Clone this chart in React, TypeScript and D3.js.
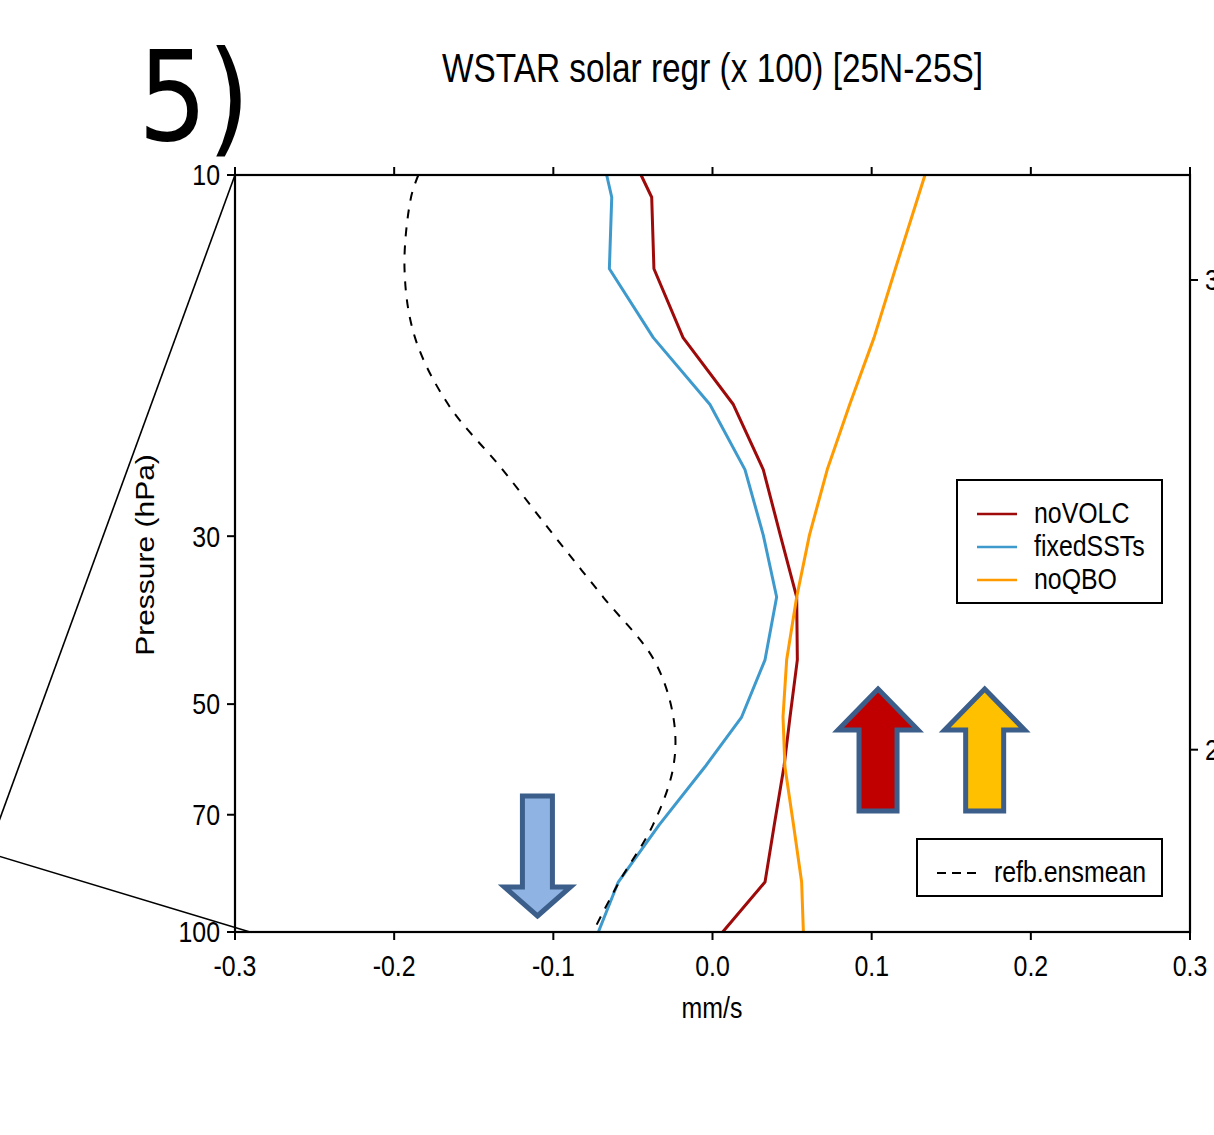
import React from "react";
import * as d3 from "d3";

// ---- data ----
const levels = [10, 10.7, 13.3, 16.4, 20.1, 24.5, 29.9, 36.1, 43.7, 52, 60.5, 72.2, 85.9, 100];
const noVOLC = [-0.0449, -0.0382, -0.0368, -0.0185, 0.0131, 0.0319, 0.0426, 0.0529, 0.0533, 0.0487, 0.0449, 0.0388, 0.033, 0.0064];
const fixedSSTs = [-0.0665, -0.0633, -0.0648, -0.0372, -0.0016, 0.0204, 0.0319, 0.0403, 0.033, 0.0183, -0.0047, -0.0335, -0.0592, -0.0717];
const noQBO = [0.1335, 0.1291, 0.1149, 0.1015, 0.0862, 0.0721, 0.0609, 0.0529, 0.0466, 0.0443, 0.0455, 0.0509, 0.056, 0.0571];
const refbEnsmean = [-0.1848, -0.1894, -0.1935, -0.1869, -0.166, -0.1319, -0.0998, -0.0687, -0.0368, -0.0246, -0.0246, -0.0374, -0.0587, -0.0751];

const xTicks = [-0.3, -0.2, -0.1, 0.0, 0.1, 0.2, 0.3];
const yTicks = [10, 30, 50, 70, 100];
const zTicks = [20, 30]; // km, z = 7 ln(1000/p)

const seriesNames = ["noVOLC", "fixedSSTs", "noQBO"];
const seriesColors = ["#9E0A0A", "#3E9ACD", "#FF9A00"];

// annotation arrows: [x value, direction, fill]
const arrowX = [-0.11, 0.104, 0.171];
const arrowDir = ["down", "up", "up"];
const arrowFill = ["#8FB4E3", "#C00000", "#FFC000"];

const FONT = "'Liberation Sans', Arial, Helvetica, sans-serif";
const SX = 0.83;

const T = ({ x, y, size = 30, anchor = "start", children, sx = SX }: any) => (
  <text
    transform={`translate(${x},${y}) scale(${sx},1)`}
    fontSize={size}
    textAnchor={anchor}
    dominantBaseline="central"
    fontFamily={FONT}
    fill="#000"
  >
    {children}
  </text>
);

export default function App() {
  const W = 1214, H = 1135;
  const L = 235, R = 1190, Tp = 175, B = 932;
  const x = d3.scaleLinear().domain([-0.3, 0.3]).range([L, R]);
  const y = d3.scaleLog().domain([10, 100]).range([Tp, B]);
  const zToP = (z: number) => 1000 * Math.exp(-z / 7);

  const line = d3
    .line<number>()
    .x((d) => x(d))
    .y((_, i) => y(levels[i]));
  const smooth = d3
    .line<number>()
    .x((d) => x(d))
    .y((_, i) => y(levels[i]))
    .curve(d3.curveCatmullRom.alpha(0.5));

  const series = [noVOLC, fixedSSTs, noQBO];

  const arrowPath = (cx: number, dir: string) => {
    const sw = 19, hw = 40, headH = 41, len = 122;
    if (dir === "up") {
      const tip = 689;
      const base = tip + headH;
      const bot = tip + len;
      return `M${cx},${tip} L${cx + hw},${base} L${cx + sw},${base} L${cx + sw},${bot} L${cx - sw},${bot} L${cx - sw},${base} L${cx - hw},${base} Z`;
    } else {
      const top = 796;
      const tip = 916;
      const base = tip - 29;
      const sw2 = 15, hw2 = 33;
      return `M${cx},${tip} L${cx + hw2},${base} L${cx + sw2},${base} L${cx + sw2},${top} L${cx - sw2},${top} L${cx - sw2},${base} L${cx - hw2},${base} Z`;
    }
  };

  return (
    <svg
      width={W}
      height={H}
      style={{ position: "absolute", left: 0, top: 0, background: "#fff" }}
    >
      <rect width={W} height={H} fill="#fff" />

      {/* zoom connector lines */}
      <line x1={L} y1={Tp} x2={-5} y2={832} stroke="#000" strokeWidth={1.6} />
      <line x1={-5} y1={855} x2={250} y2={B} stroke="#000" strokeWidth={1.6} />

      {/* panel label & title */}
      <text x={138} y={140} fontSize={124} fontFamily="'DejaVu Sans', sans-serif" textLength={112} lengthAdjust="spacingAndGlyphs">
        5)
      </text>
      <text x={442} y={82} fontSize={41} fontFamily={FONT} textLength={541} lengthAdjust="spacingAndGlyphs">
        WSTAR solar regr (x 100) [25N-25S]
      </text>

      {/* series */}
      <g fill="none" strokeLinejoin="round">
        {series.map((s, i) => (
          <path key={i} d={line(s) || ""} stroke={seriesColors[i]} strokeWidth={3} />
        ))}
        <path d={smooth(refbEnsmean) || ""} stroke="#000" strokeWidth={2} strokeDasharray="9,9" />
      </g>

      {/* frame */}
      <rect x={L} y={Tp} width={R - L} height={B - Tp} fill="none" stroke="#000" strokeWidth={2.2} />

      {/* x ticks */}
      {xTicks.map((t) => (
        <g key={t}>
          <line x1={x(t)} x2={x(t)} y1={Tp} y2={Tp - 8} stroke="#000" strokeWidth={2} />
          <line x1={x(t)} x2={x(t)} y1={B} y2={B + 8} stroke="#000" strokeWidth={2} />
          <T x={x(t)} y={966} anchor="middle">
            {t.toFixed(1)}
          </T>
        </g>
      ))}
      {/* y ticks */}
      {yTicks.map((t) => (
        <g key={t}>
          <line x1={L} x2={L - 8} y1={y(t)} y2={y(t)} stroke="#000" strokeWidth={2} />
          <T x={220} y={y(t)} anchor="end">
            {t}
          </T>
        </g>
      ))}
      {/* right altitude axis */}
      {zTicks.map((z) => (
        <g key={z}>
          <line x1={R} x2={R + 8} y1={y(zToP(z))} y2={y(zToP(z))} stroke="#000" strokeWidth={2} />
          <T x={1205} y={y(zToP(z))} anchor="start">
            {z}
          </T>
        </g>
      ))}

      {/* axis titles */}
      <T x={712} y={1008} anchor="middle">mm/s</T>
      <text
        transform={`translate(145,555) rotate(-90) scale(1,${SX})`}
        fontSize={30}
        textAnchor="middle"
        dominantBaseline="central"
        fontFamily={FONT}
      >
        Pressure (hPa)
      </text>

      {/* legend 1 */}
      <rect x={957} y={480} width={205} height={123} fill="#fff" stroke="#000" strokeWidth={2} />
      {seriesNames.map((n, i) => (
        <g key={n}>
          <line x1={977} x2={1017} y1={514 + i * 33} y2={514 + i * 33} stroke={seriesColors[i]} strokeWidth={2.5} />
          <T x={1034} y={513 + i * 33}>{n}</T>
        </g>
      ))}
      {/* legend 2 */}
      <rect x={917} y={839} width={245} height={57} fill="#fff" stroke="#000" strokeWidth={2} />
      <line x1={937} x2={977} y1={873} y2={873} stroke="#000" strokeWidth={2} strokeDasharray="9,6" />
      <T x={994} y={872}>refb.ensmean</T>

      {/* arrows */}
      {arrowX.map((v, i) => (
        <path
          key={i}
          d={arrowPath(x(v), arrowDir[i])}
          fill={arrowFill[i]}
          stroke="#3B5E8A"
          strokeWidth={5}
          strokeLinejoin="miter"
        />
      ))}
    </svg>
  );
}
